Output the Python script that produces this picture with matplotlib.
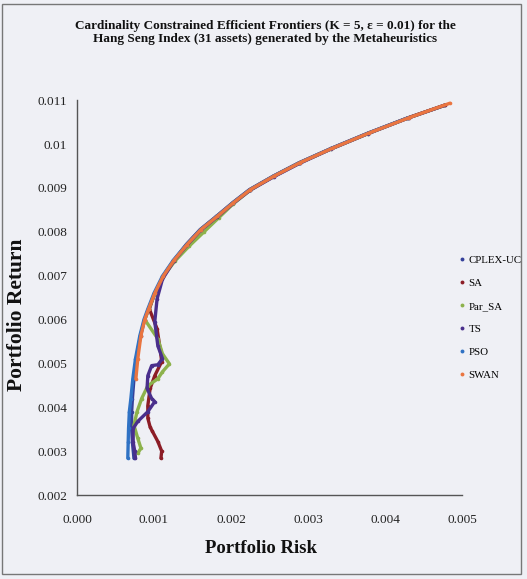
import matplotlib
matplotlib.use("Agg")
import matplotlib.pyplot as plt
from matplotlib.lines import Line2D
from matplotlib.patches import Rectangle

plt.rcParams['font.family'] = ['Liberation Serif', 'DejaVu Serif']

title = "Cardinality Constrained Efficient Frontiers (K = 5, \u03b5 = 0.01) for the\nHang Seng Index (31 assets) generated by the Metaheuristics"
series_names = ["CPLEX-UC", "SA", "Par_SA", "TS", "PSO", "SWAN"]
series_colors = ["#34409a", "#8c1d26", "#8db24c", "#4a2f8c", "#2f72c4", "#ea7540"]

# Efficient frontier (risk, return)
frontier_risk = [0.00066, 0.000665, 0.00067, 0.00068, 0.00070, 0.000725, 0.00076, 0.000816,
                 0.00087, 0.00092, 0.00100, 0.00111, 0.00125, 0.00142, 0.00160, 0.00181,
                 0.00202, 0.00224, 0.00255, 0.00288, 0.00330, 0.00378, 0.00430, 0.00478]
frontier_ret = [0.00284, 0.00320, 0.00352, 0.00390, 0.00420, 0.00465, 0.00511, 0.00563,
                0.00600, 0.00624, 0.00660, 0.00699, 0.00735, 0.00771, 0.00805, 0.00835,
                0.00866, 0.00896, 0.00927, 0.00957, 0.00990, 0.01025, 0.01060, 0.01089]

cplex_risk = [0.00074, 0.00072, 0.00071, 0.00071, 0.00072, 0.00074, 0.00077, 0.000825,
              0.00088, 0.00093, 0.00101, 0.00112, 0.00126, 0.00143, 0.00161, 0.00182,
              0.00203, 0.00225, 0.00256, 0.00289, 0.00331, 0.00379, 0.00431, 0.00478]
cplex_ret = frontier_ret

sa_risk = [0.00478, 0.00430, 0.00378, 0.00330, 0.00288, 0.00255, 0.00224, 0.00202, 0.00181,
           0.00160, 0.00142, 0.00126, 0.00112, 0.00101, 0.00094, 0.00104, 0.00108, 0.00110,
           0.00101, 0.00095, 0.00092, 0.00092, 0.00095, 0.00098, 0.00105, 0.00110, 0.00109]
sa_ret = [0.01089, 0.01060, 0.01025, 0.00990, 0.00957, 0.00927, 0.00896, 0.00866, 0.00835,
          0.00805, 0.00771, 0.00735, 0.00699, 0.00660, 0.00624, 0.00579, 0.00533, 0.00504,
          0.00472, 0.00443, 0.00404, 0.00375, 0.00355, 0.00345, 0.00322, 0.00300, 0.00284]

parsa_risk = [0.00477, 0.00429, 0.00378, 0.00330, 0.00288, 0.00255, 0.00225, 0.00203, 0.00184,
              0.00165, 0.00146, 0.00127, 0.00112, 0.00101, 0.00093, 0.00088, 0.00105, 0.00111,
              0.00120, 0.00111, 0.00105, 0.00092, 0.00084, 0.00078, 0.00074, 0.00079, 0.00083,
              0.00079]
parsa_ret = [0.01088, 0.01059, 0.01024, 0.00989, 0.00956, 0.00926, 0.00895, 0.00864, 0.00832,
             0.00800, 0.00768, 0.00733, 0.00698, 0.00659, 0.00623, 0.00600, 0.00556, 0.00522,
             0.00499, 0.00481, 0.00465, 0.00449, 0.00420, 0.00390, 0.00359, 0.00329, 0.00307,
             0.00295]

ts_risk = [0.00477, 0.00429, 0.00378, 0.00330, 0.00289, 0.00256, 0.00225, 0.00203, 0.00182,
           0.00161, 0.00143, 0.00126, 0.00111, 0.00104, 0.00101, 0.00105, 0.00111, 0.00105,
           0.00097, 0.00092, 0.00091, 0.00097, 0.00101, 0.00092, 0.00079, 0.00073, 0.00073,
           0.00075, 0.00076]
ts_ret = [0.01088, 0.01059, 0.01024, 0.00989, 0.00956, 0.00926, 0.00895, 0.00865, 0.00834,
          0.00804, 0.00770, 0.00734, 0.00692, 0.00647, 0.00595, 0.00540, 0.00511, 0.00497,
          0.00495, 0.00472, 0.00443, 0.00420, 0.00413, 0.00390, 0.00368, 0.00352, 0.00320,
          0.00300, 0.00284]

pso_risk = frontier_risk[:-1]
pso_ret = frontier_ret[:-1]

swan_risk = [0.000765, 0.00079, 0.00083, 0.00088, 0.00093, 0.00101, 0.00112, 0.00126, 0.00143,
             0.00161, 0.00182, 0.00203, 0.00225, 0.00256, 0.00289, 0.00331, 0.00379, 0.00431,
             0.00484]
swan_ret = [0.00465, 0.00511, 0.00563, 0.00600, 0.00624, 0.00660, 0.00699, 0.00735, 0.00771,
            0.00805, 0.00835, 0.00866, 0.00896, 0.00927, 0.00957, 0.00990, 0.01025, 0.01060,
            0.01093]

xticks = [0.000, 0.001, 0.002, 0.003, 0.004, 0.005]
xtick_labels = ["0.000", "0.001", "0.002", "0.003", "0.004", "0.005"]
yticks = [0.002, 0.003, 0.004, 0.005, 0.006, 0.007, 0.008, 0.009, 0.010, 0.011]
ytick_labels = ["0.002", "0.003", "0.004", "0.005", "0.006", "0.007", "0.008", "0.009", "0.01", "0.011"]

all_data = [(cplex_risk, cplex_ret), (sa_risk, sa_ret), (parsa_risk, parsa_ret),
            (ts_risk, ts_ret), (pso_risk, pso_ret), (swan_risk, swan_ret)]

bg = "#eff0f5"
fig = plt.figure(figsize=(5.27, 5.79), dpi=100, facecolor=bg)
ax = fig.add_axes([0.146, 0.145, 0.731, 0.682])
ax.set_facecolor(bg)

for (rx, ry), name, col in zip(all_data, series_names, series_colors):
    ax.plot(rx, ry, '-', color=col, lw=2.4, marker='o', ms=2.6, mew=0, solid_capstyle='round')

ax.set_xlim(0, 0.005)
ax.set_ylim(0.002, 0.011)
ax.set_xticks(xticks)
ax.set_xticklabels(xtick_labels, fontsize=9.5)
ax.set_yticks(yticks)
ax.set_yticklabels(ytick_labels, fontsize=9.5)
ax.tick_params(axis='both', length=0, colors="#222222")
ax.tick_params(axis='x', pad=14)
ax.tick_params(axis='y', pad=7)
for s in ['top', 'right']:
    ax.spines[s].set_visible(False)
for s in ['left', 'bottom']:
    ax.spines[s].set_color("#555555")
    ax.spines[s].set_linewidth(1.0)

ax.set_xlabel("Portfolio Risk", fontsize=13.5, fontweight='bold', color="#111111")
ax.xaxis.set_label_coords(0.477, -0.113)
ax.set_ylabel("Portfolio Return", fontsize=15.5, fontweight='bold', color="#111111")
ax.yaxis.set_label_coords(-0.13, 0.456)

fig.text(0.503, 0.944, title, ha='center', va='center', fontsize=9.5, fontweight='bold',
         linespacing=1.2, color="#111111")

handles = [Line2D([], [], linestyle='none', marker='o', ms=2.8, mew=0, color=c) for c in series_colors]
fig.legend(handles, series_names, loc='upper left', bbox_to_anchor=(0.862, 0.567),
           frameon=False, fontsize=7.8, handlelength=0.6, handletextpad=0.3,
           labelspacing=1.25, borderaxespad=0)

fig.patches.append(Rectangle((0.004, 0.008), 0.984, 0.985, transform=fig.transFigure,
                             fill=False, edgecolor="#777777", lw=1.0))

fig.savefig("out.png", dpi=100, facecolor=bg)
